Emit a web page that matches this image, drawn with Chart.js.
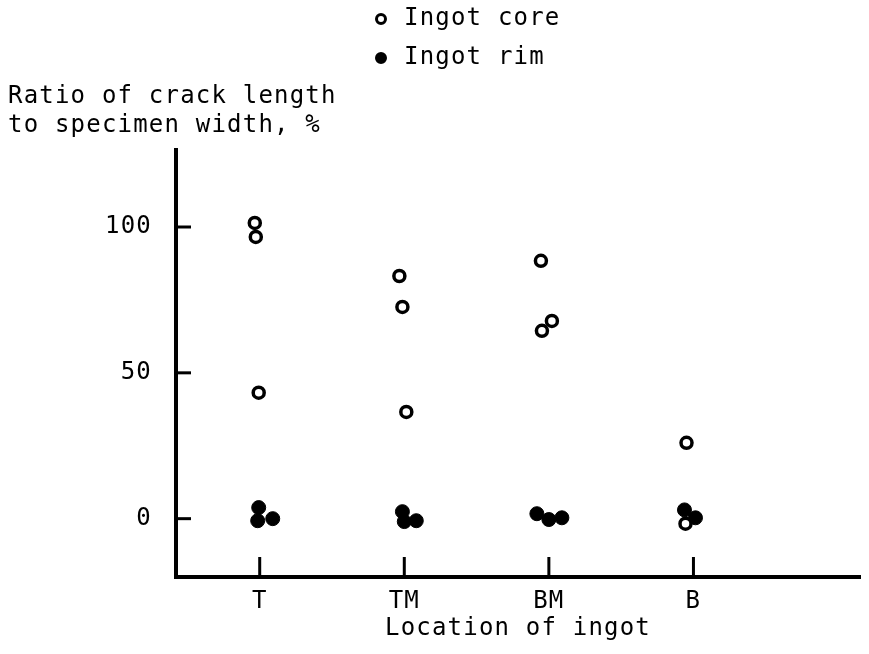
<!DOCTYPE html>
<html>
<head>
<meta charset="utf-8">
<script src="https://cdn.jsdelivr.net/npm/chart.js@4"></script>
<style>
  html, body { margin: 0; padding: 0; background: #fff; }
  canvas { display: block; }
</style>
</head>
<body>
<canvas id="crack-chart" width="869" height="654"></canvas>
<script>
// Crack length ratio by ingot location

const categories = ['T', 'TM', 'BM', 'B'];
const categoryPos = [1, 2, 3, 4];
const yTickValues = [0, 50, 100];

// Ingot core (open circles)
const coreX = [0.966, 0.973, 0.993, 1.966, 1.987, 2.014, 2.945, 3.021, 2.952, 3.952, 3.945];
const coreY = [101.4, 96.6, 43.2, 83.2, 72.6, 36.6, 88.4, 67.8, 64.4, 26, -1.7];

// Ingot rim (filled circles)
const rimX = [0.993, 0.986, 1.090, 1.987, 2.0, 2.083, 2.917, 3.0, 3.090, 3.938, 4.014];
const rimY = [3.8, -0.7, 0, 2.4, -1, -0.7, 1.7, -0.3, 0.3, 3, 0.3];

const yTitleLines = ['Ratio of crack length', 'to specimen width, %'];
const xTitle = 'Location of ingot';

const FONT = '"DejaVu Sans Mono", "Liberation Mono", monospace';
const FONT_SIZE = 24;

function toPoints(xs, ys) {
    return xs.map((x, i) => ({ x: x, y: ys[i] }));
}

// letter spacing for the typewriter look
const spacingPlugin = {
    id: 'spacing',
    beforeDraw(chart) {
        chart.ctx.letterSpacing = '1.2px';
    }
};

// inward tick marks, as in the original drawing
const tickMarks = {
    id: 'tickMarks',
    afterDraw(chart) {
        const ctx = chart.ctx;
        const xs = chart.scales.x;
        const ys = chart.scales.y;
        const area = chart.chartArea;
        ctx.save();
        ctx.strokeStyle = '#000';
        ctx.lineWidth = 3;
        ys.ticks.forEach(t => {
            const py = ys.getPixelForValue(t.value);
            ctx.beginPath();
            ctx.moveTo(area.left, py);
            ctx.lineTo(area.left + 15, py);
            ctx.stroke();
        });
        xs.ticks.forEach(t => {
            const px = xs.getPixelForValue(t.value);
            ctx.beginPath();
            ctx.moveTo(px, area.bottom);
            ctx.lineTo(px, area.bottom - 20);
            ctx.stroke();
        });
        ctx.restore();
    }
};

// y title (horizontal, top left) and stacked legend
const labelsPlugin = {
    id: 'labels',
    afterDraw(chart) {
        const ctx = chart.ctx;
        ctx.save();
        ctx.letterSpacing = '1.2px';
        ctx.fillStyle = '#000';
        ctx.font = FONT_SIZE + 'px ' + FONT;
        ctx.textAlign = 'left';
        ctx.textBaseline = 'middle';
        yTitleLines.forEach((line, i) => {
            ctx.fillText(line, 8, 97 + i * 29);
        });

        chart.data.datasets.forEach((ds, i) => {
            const cy = 19 + i * 39;
            ctx.beginPath();
            ctx.arc(381, cy, 4.5, 0, Math.PI * 2);
            ctx.fillStyle = ds.backgroundColor;
            ctx.fill();
            ctx.lineWidth = 3;
            ctx.strokeStyle = '#000';
            ctx.stroke();
            ctx.fillStyle = '#000';
            ctx.fillText(ds.label, 404, cy);
        });
        ctx.restore();
    }
};

new Chart(document.getElementById('crack-chart').getContext('2d'), {
    type: 'scatter',
    data: {
        datasets: [
            {
                label: 'Ingot core',
                data: toPoints(coreX, coreY),
                backgroundColor: '#fff',
                borderColor: '#000',
                borderWidth: 3.5,
                pointRadius: 5.5,
            },
            {
                label: 'Ingot rim',
                data: toPoints(rimX, rimY),
                backgroundColor: '#000',
                borderColor: '#000',
                borderWidth: 1,
                pointRadius: 7,
            }
        ]
    },
    options: {
        responsive: false,
        animation: false,
        layout: {
            padding: { top: 150, right: 7, left: 0, bottom: 0 }
        },
        plugins: {
            legend: { display: false },
            tooltip: { enabled: false },
        },
        scales: {
            x: {
                type: 'linear',
                min: 0.421,
                max: 5.152,
                afterFit(scale) { scale.height = 77; },
                afterBuildTicks(scale) {
                    scale.ticks = categoryPos.map(v => ({ value: v }));
                },
                ticks: {
                    color: '#000',
                    padding: 10,
                    font: { family: FONT, size: FONT_SIZE },
                    callback: (value, index) => categories[index],
                },
                grid: { drawOnChartArea: false, drawTicks: false },
                border: { display: true, color: '#000', width: 4 },
                title: {
                    display: true,
                    text: xTitle,
                    color: '#000',
                    font: { family: FONT, size: FONT_SIZE },
                    padding: { top: 0, bottom: 11 },
                }
            },
            y: {
                type: 'linear',
                min: -20,
                max: 126.4,
                afterFit(scale) { scale.width = 176; },
                afterBuildTicks(scale) {
                    scale.ticks = yTickValues.map(v => ({ value: v }));
                },
                ticks: {
                    color: '#000',
                    padding: 24,
                    font: { family: FONT, size: FONT_SIZE },
                },
                grid: { drawOnChartArea: false, drawTicks: false },
                border: { display: true, color: '#000', width: 4 },
            }
        }
    },
    plugins: [spacingPlugin, tickMarks, labelsPlugin]
});
</script>
</body>
</html>
